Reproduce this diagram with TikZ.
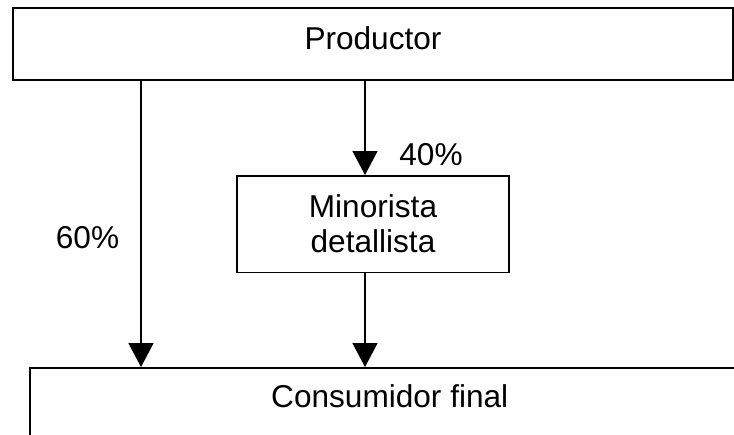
\documentclass[tikz,border=0pt]{standalone}
\usepackage{fontspec}
\setmainfont{Liberation Sans}
\usetikzlibrary{arrows.meta}
\begin{document}
\begin{tikzpicture}[x=1pt,y=-1pt,
    caja/.style={draw,line width=1.5pt,inner sep=0pt,minimum width=720pt,align=center},
    flecha/.style={line width=1.5pt,-{Triangle[width=25pt,length=24pt]}},
    font=\fontsize{31.6pt}{35pt}\selectfont]
    \useasboundingbox (0,0) rectangle (734,434);
    \clip (0,0) rectangle (734,434);
    \node[caja,text height=41pt,text depth=31pt,anchor=base] (1) at (373,49) {Productor};
    \node[caja,minimum width=272pt,minimum height=96.5pt] (2) at (373,224) {Minorista\\detallista};
    \node[caja,text height=40pt,text depth=70pt,anchor=north west] (3) at (29,367) {Consumidor final};
    \coordinate (4) at (141,0);
    \coordinate (5) at (365,0);
    %% Vertical arrows
    \draw[flecha] (1.south -| 4) -- (3.north -| 4);
    \draw[flecha] (1.south -| 5) -- (2.north -| 5);
    \draw[flecha] (2.south -| 5) -- (3.north -| 5);
    %% percentages
    \node[anchor=base] (6) at (87.5,248) {60\%};
    \node[anchor=base] (7) at (431,165) {40\%};
\end{tikzpicture}
\end{document}
